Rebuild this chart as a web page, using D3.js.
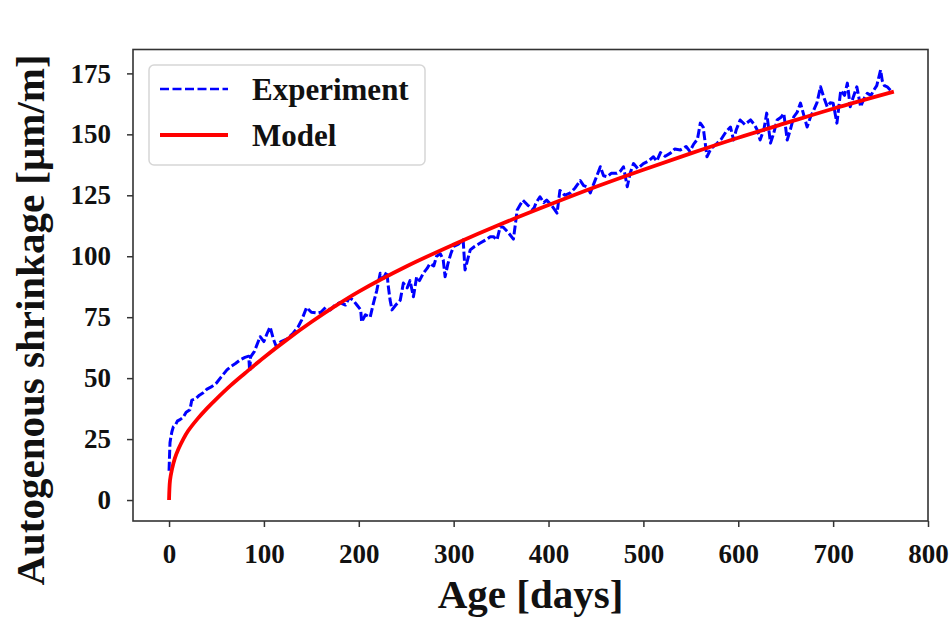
<!DOCTYPE html>
<html>
<head>
<meta charset="utf-8">
<script src="https://cdn.jsdelivr.net/npm/d3@7"></script>
<style>
  body { margin: 0; background: #fff; }
  svg { display: block; }
  .tick text { font-family: "Liberation Serif", "DejaVu Serif", serif; font-weight: bold; }
</style>
</head>
<body>
<div id="chart"></div>
<script>
// measured experiment (age in days, shrinkage in µm/m)
var expDays = [0, 0.5, 1, 2, 3, 4.5, 7, 9, 11.6, 15, 18, 22, 24, 28, 32, 36, 40, 45, 50, 55,
  61, 66, 70, 75, 80, 84, 85, 86, 90, 96, 100, 103, 106.5, 110, 113, 118, 124, 131, 136, 140,
  145, 150, 156, 160, 165, 170, 175, 180, 186, 190, 194, 198, 202, 203, 207, 212, 215, 219, 222.6, 226,
  229.6, 231, 233, 235, 239, 243.7, 247, 251, 254, 257.6, 261, 264, 268, 272, 275, 279, 282, 286, 289, 291,
  294, 297, 300, 305, 310, 312, 315, 317.5, 322, 328, 335, 338.6, 342, 345.7, 349, 352, 357, 363, 367, 370,
  373, 378, 384, 387, 391, 395, 398, 403, 409, 412, 417, 423, 428, 433.5, 437, 440.6, 444, 449, 454.6, 458,
  461.7, 466, 472, 476, 479, 483, 486, 489.6, 494, 500, 505, 510.6, 514, 518, 523, 528.5, 533, 539, 545, 549,
  553, 557, 560, 563, 565, 567, 571, 577.7, 582, 587, 591.8, 595, 598, 602, 607, 613, 617, 620, 623, 627,
  630, 634, 637, 641, 645, 648, 651.6, 655, 658.5, 662, 665.6, 669, 672.6, 676, 679.6, 683, 686.7, 690, 693.8, 697,
  700, 704, 708, 712, 715, 718, 721, 725, 729, 733, 736, 740, 742.6, 746, 750, 751.8, 754, 757, 760.6, 763];
var expValues = [12, 18, 23.5, 26, 28, 30, 31, 32.5, 33, 34, 36, 37, 41, 41.5, 43, 44, 45.5, 46.5, 48, 50.5,
  53.4, 55, 56, 57.5, 58.5, 59, 52.7, 58.7, 61, 67, 65, 68, 71, 66, 63, 65, 66, 68.5, 71, 74,
  79, 77, 76.7, 77, 79, 78, 80, 81, 80, 83, 82, 80, 78, 73, 76, 75, 80, 86, 93, 91,
  93.7, 88, 82, 78, 80, 82, 89, 87, 90, 83.4, 91.6, 90, 93, 95, 97, 96, 100, 101, 98.5, 91.6,
  97, 101, 104, 105, 106.7, 94.4, 99, 102.6, 104, 105.4, 107, 108, 108, 106.7, 112, 112, 110, 107, 119, 121,
  123, 121, 119, 122, 124.4, 122, 123, 121, 117.7, 127, 125, 126, 128, 131, 129, 128.5, 126, 131, 136.7, 133,
  132.6, 134, 134, 135, 136.7, 128.5, 134, 138, 136, 138, 139, 140.8, 139, 142.5, 141, 142.3, 144, 143.6, 145, 143,
  146, 148, 154.6, 153, 147, 140.8, 144, 146.3, 148, 151, 153, 147.7, 152, 155.9, 154, 155.9, 154, 151.8, 147.7, 152,
  158.7, 146.4, 150, 155.9, 157, 158.6, 147.7, 152, 157.2, 159, 162.8, 158, 153, 157, 160, 163, 169.5, 165.4, 161.3, 163,
  162.8, 154.6, 168, 166, 171, 161.3, 165, 169.5, 161.3, 165, 166.8, 166, 168, 170, 176.4, 172, 170, 169.5, 168, 168];

// fitted model curve
var modelDays = [0, 1, 3, 6, 10, 15, 20, 30, 40, 50, 65, 80, 100, 125, 150, 175, 200, 250, 300, 350,
  400, 450, 500, 550, 600, 650, 700, 764];
var modelValues = [0, 8, 12.5, 17, 21, 25, 28.3, 33.3, 37.6, 41.5, 47, 52, 58.5, 66, 73, 79.5, 85.5, 95.8, 104.8, 113.2,
  121, 128.5, 135.5, 142.2, 148.6, 154.6, 160.5, 167.5];

var xTicks = [0, 100, 200, 300, 400, 500, 600, 700, 800];
var yTicks = [0, 25, 50, 75, 100, 125, 150, 175];
var seriesNames = ["Experiment", "Model"];

var W = 952, H = 621;
var plot = { left: 133, right: 928, top: 49.5, bottom: 521 };
var serif = "'Liberation Serif', 'Times New Roman', serif";

var svg = d3.select("#chart").append("svg")
  .attr("width", W)
  .attr("height", H);

var x = d3.scaleLinear().domain([-38, 800]).range([plot.left, plot.right]);
var y = d3.scaleLinear().domain([-8.6, 184.8]).range([plot.bottom, plot.top]);

// axes
var xAxis = svg.append("g")
  .attr("transform", "translate(0," + plot.bottom + ")")
  .call(d3.axisBottom(x).tickValues(xTicks).tickSize(6).tickPadding(17).tickFormat(d3.format("d")));
var yAxis = svg.append("g")
  .attr("transform", "translate(" + plot.left + ",0)")
  .call(d3.axisLeft(y).tickValues(yTicks).tickSize(6).tickPadding(16).tickFormat(d3.format("d")));

[xAxis, yAxis].forEach(function(ax) {
  ax.select(".domain").remove();
  ax.selectAll(".tick line").attr("stroke", "#333").attr("stroke-width", 1.5);
  ax.selectAll(".tick text").attr("font-size", "27px").attr("fill", "#111");
});

// lines
var lineGen = d3.line()
  .x(function(d) { return x(d[0]); })
  .y(function(d) { return y(d[1]); });

var expData = expDays.map(function(t, i) { return [t, expValues[i]]; });
var modelData = modelDays.map(function(t, i) { return [t, modelValues[i]]; });

svg.append("path")
  .datum(expData)
  .attr("fill", "none")
  .attr("stroke", "#0000ff")
  .attr("stroke-width", 3)
  .attr("stroke-dasharray", "9,3")
  .attr("stroke-linejoin", "round")
  .attr("d", lineGen);

svg.append("path")
  .datum(modelData)
  .attr("fill", "none")
  .attr("stroke", "#ff0000")
  .attr("stroke-width", 3.8)
  .attr("d", lineGen.curve(d3.curveCatmullRom));

// frame
svg.append("rect")
  .attr("x", plot.left)
  .attr("y", plot.top)
  .attr("width", plot.right - plot.left)
  .attr("height", plot.bottom - plot.top)
  .attr("fill", "none")
  .attr("stroke", "#333")
  .attr("stroke-width", 1.6);

// legend
var legend = svg.append("g");
legend.append("rect")
  .attr("x", 149).attr("y", 65)
  .attr("width", 276).attr("height", 100)
  .attr("rx", 5)
  .attr("fill", "#fff")
  .attr("stroke", "#d6d6d6")
  .attr("stroke-width", 1.5);

var legendItems = legend.selectAll(".item")
  .data(seriesNames)
  .enter().append("g")
  .attr("transform", function(d, i) { return "translate(0," + (89 + i * 46) + ")"; });

legendItems.append("line")
  .attr("x1", 160).attr("x2", 228)
  .attr("stroke", function(d, i) { return i == 0 ? "#0000ff" : "#ff0000"; })
  .attr("stroke-width", function(d, i) { return i == 0 ? 2.6 : 3.8; })
  .attr("stroke-dasharray", function(d, i) { return i == 0 ? "9,3.5" : null; });

legendItems.append("text")
  .attr("x", 252)
  .attr("dy", "0.35em")
  .attr("font-family", serif)
  .attr("font-weight", "bold")
  .attr("font-size", "31px")
  .attr("fill", "#111")
  .text(function(d) { return d; });

// axis titles
svg.append("text")
  .attr("x", (plot.left + plot.right) / 2)
  .attr("y", 608)
  .attr("text-anchor", "middle")
  .attr("font-family", serif)
  .attr("font-weight", "bold")
  .attr("font-size", "41px")
  .attr("fill", "#111")
  .text("Age [days]");

svg.append("text")
  .attr("transform", "translate(44," + 320 + ") rotate(-90)")
  .attr("text-anchor", "middle")
  .attr("font-family", serif)
  .attr("font-weight", "bold")
  .attr("font-size", "41px")
  .attr("fill", "#111")
  .text("Autogenous shrinkage [μm/m]");
</script>
</body>
</html>
